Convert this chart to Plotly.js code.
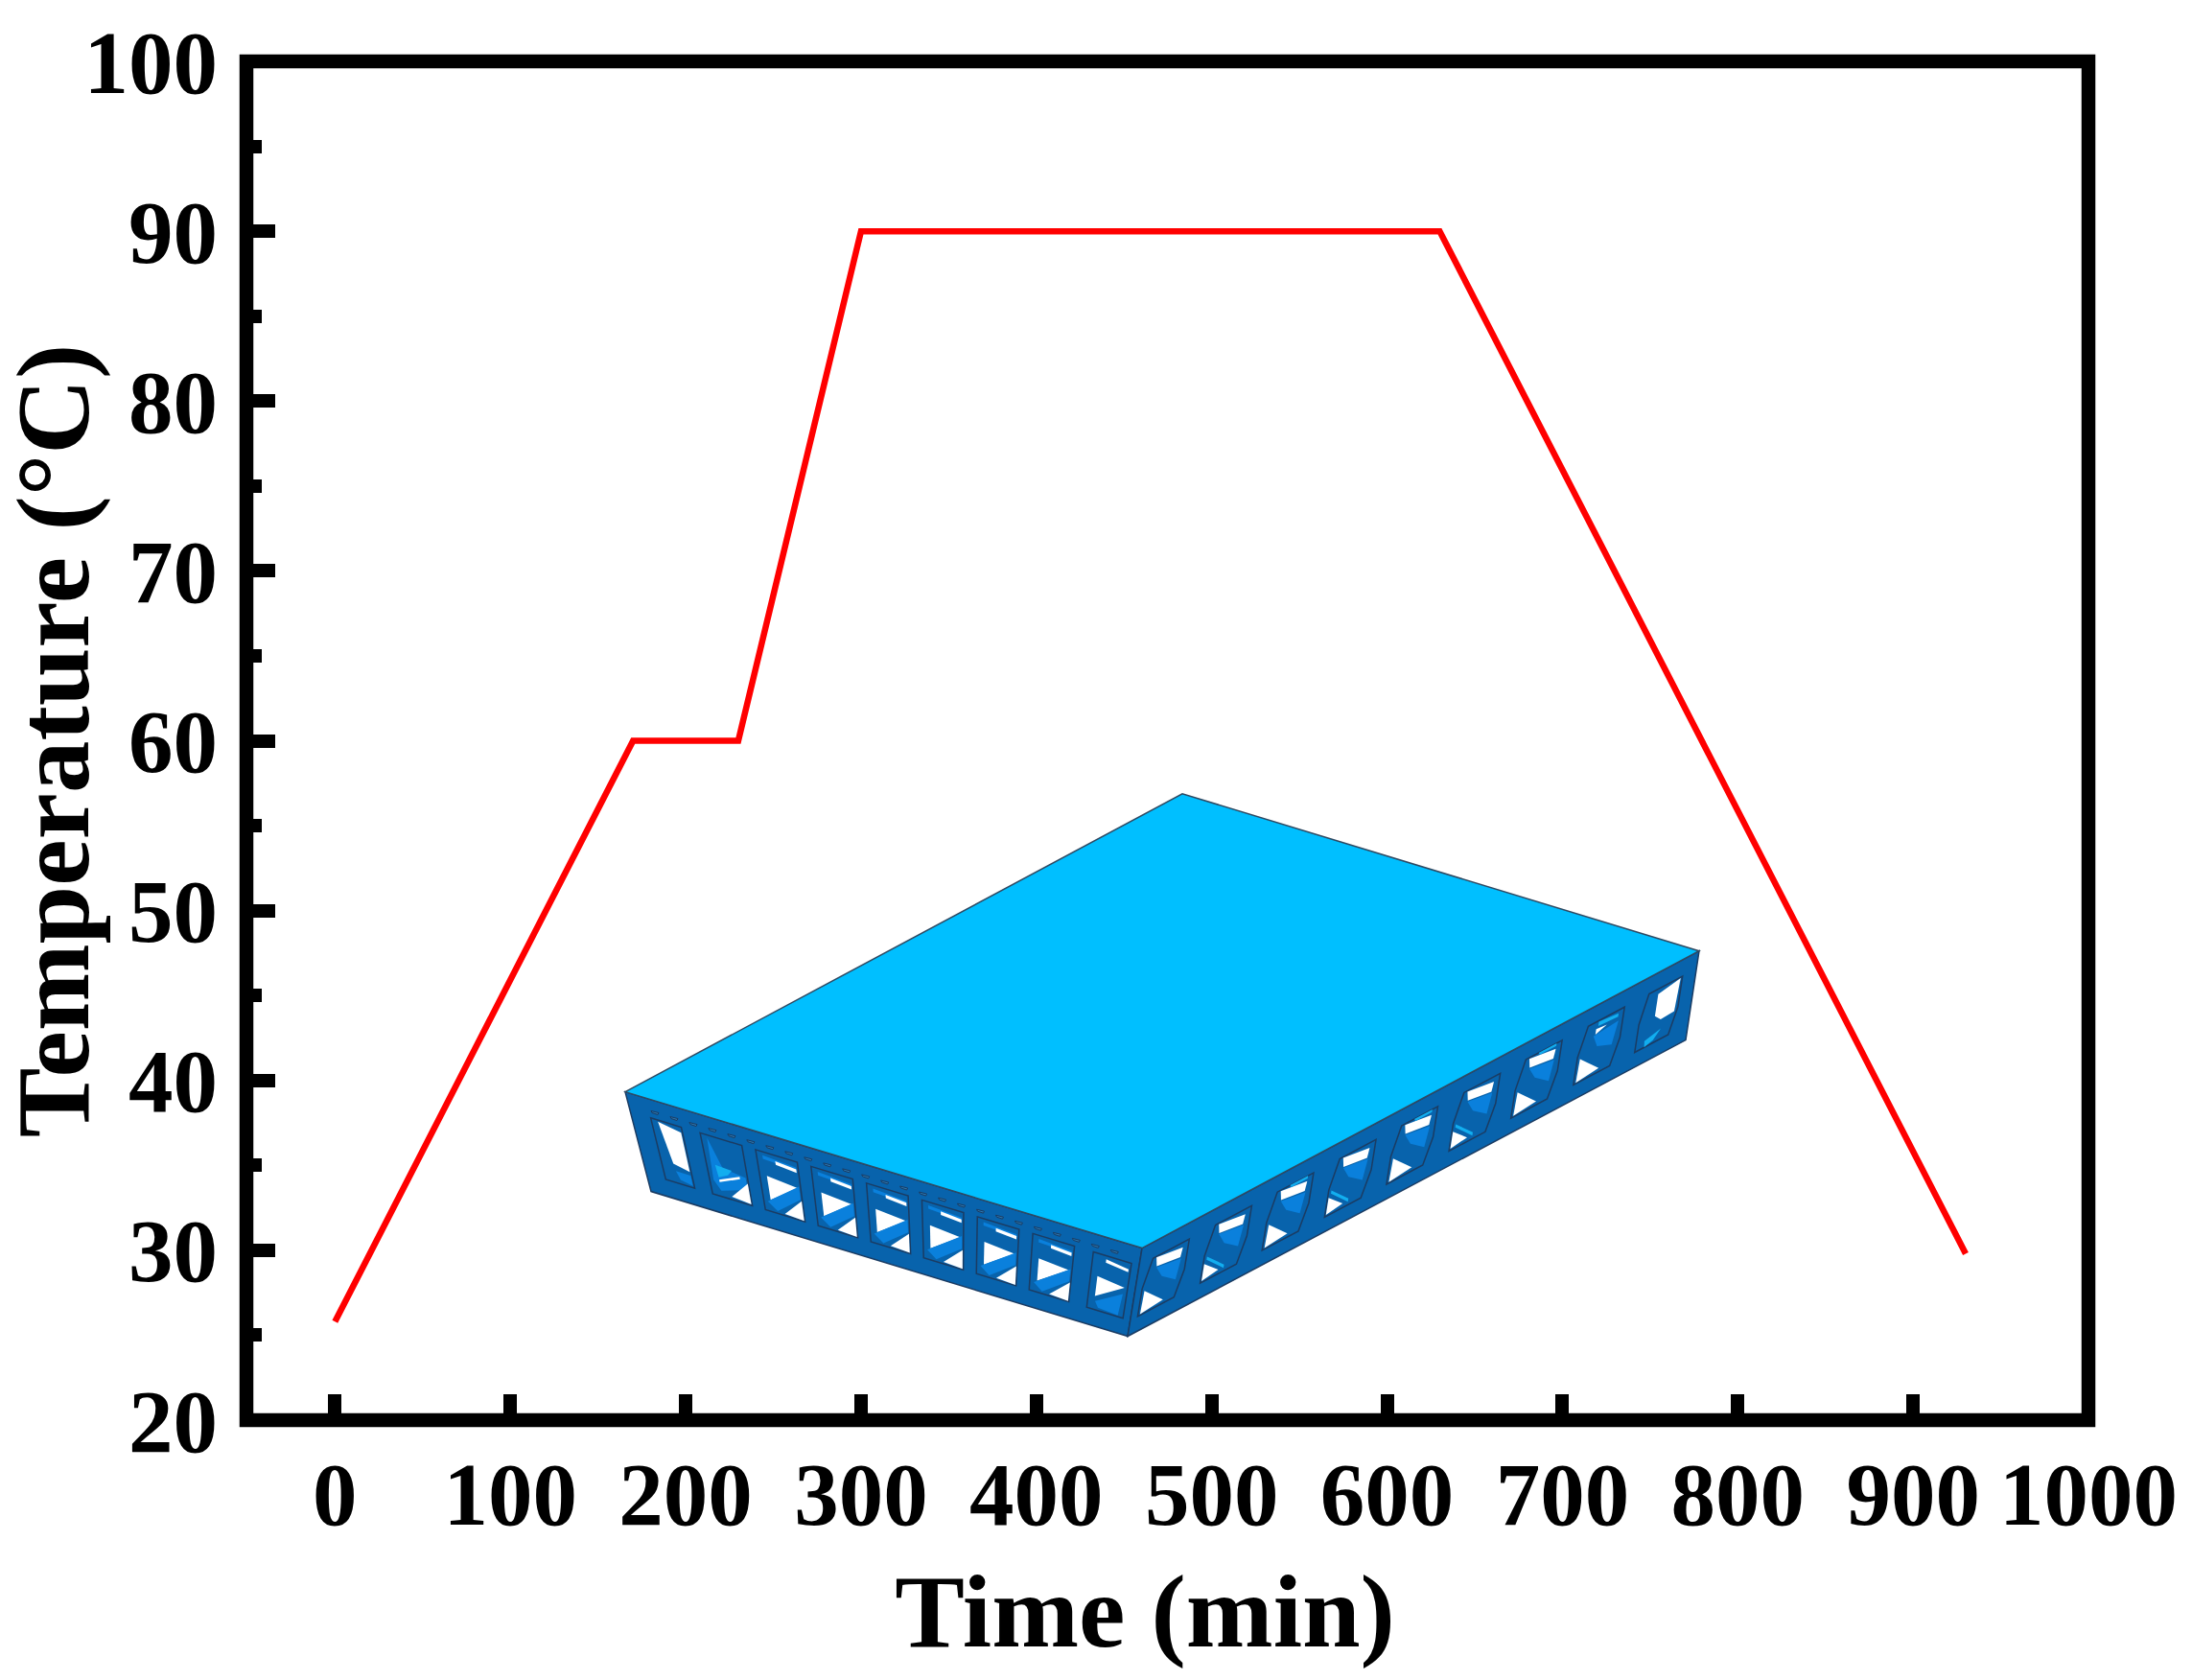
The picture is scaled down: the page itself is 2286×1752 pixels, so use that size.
<!DOCTYPE html>
<html>
<head>
<meta charset="utf-8">
<script src="https://cdn.plot.ly/plotly-3.0.1.min.js"></script>
<style>html,body{margin:0;padding:0;background:#fff}#chart{width:2286px;height:1752px}</style>
</head>
<body>
<div id="chart"></div>
<script>
// Chart data
const timeMin = [0, 170, 230, 300, 630, 930];
const temperatureC = [25.8, 60, 60, 90, 90, 29.8];
const xTicks = [0, 100, 200, 300, 400, 500, 600, 700, 800, 900, 1000];
const yTicks = [20, 30, 40, 50, 60, 70, 80, 90, 100];

// Inset illustration (picture pixels)
const plateTop = [[652,1139],[1233,828],[1772,992],[1191,1302]];
const plateLeft = [[652,1139],[1191,1302],[1176,1394],[679,1243]];
const plateRight = [[1191,1302],[1772,992],[1758,1085],[1176,1394]];
const leftCells = [[.04,.10],[.137,.219],[.246,.328],[.355,.437],[.464,.546],[.573,.655],[.682,.764],[.791,.873],[.91,.985]];
const rightCells = [[.025,.09],[.137,.202],[.248,.313],[.36,.425],[.471,.536],[.583,.648],[.694,.759],[.806,.871],[.915,.975]];
const COL_TOP = '#00BFFF', COL_SIDE = '#0863AC', COL_IN = '#0A80DC', COL_EDGE = '#1B3C63', COL_CYAN = '#12AEEF';

const PL = 257, PT = 64, PW = 1921, PH = 1417.5;
const toPaper = p => [(p[0]-PL)/PW, 1-(p[1]-PT)/PH];
function poly(points, fill, stroke, w) {
  const d = points.map(toPaper).map((p,i)=>(i?'L':'M')+p[0].toFixed(5)+','+p[1].toFixed(5)).join('')+'Z';
  return {type:'path', xref:'paper', yref:'paper', path:d, fillcolor:fill,
          line:{color:stroke||fill, width:w===undefined?0:w}, layer:'above'};
}
function facePoint(f, s, t) {
  const a=[f[0][0]+(f[1][0]-f[0][0])*s, f[0][1]+(f[1][1]-f[0][1])*s];
  const b=[f[3][0]+(f[2][0]-f[3][0])*s, f[3][1]+(f[2][1]-f[3][1])*s];
  return [a[0]+(b[0]-a[0])*t, a[1]+(b[1]-a[1])*t];
}
const T0=.2, T1=.82;
function cellShape(f, c, pts, fill, stroke, w) {
  return poly(pts.map(q=>facePoint(f, c[0]+q[0]*(c[1]-c[0]), T0+q[1]*(T1-T0))), fill, stroke, w);
}
const shapes = [];
shapes.push(poly(plateLeft, COL_SIDE, COL_EDGE, 1.5));
shapes.push(poly(plateRight, COL_SIDE, COL_EDGE, 1.5));
shapes.push(poly(plateTop, COL_TOP, '#2F4A63', 1.5));

// small holes along the top edge of the left face
for (let k=0;k<25;k++){
  const c=facePoint(plateLeft,.052+.0374*k,.12);
  shapes.push(poly([[c[0]-4,c[1]-1],[c[0]+4,c[1]+1],[c[0]+3,c[1]+3],[c[0]-3,c[1]+1]],'#2C78B0',COL_EDGE,1));
}
const outline=[[0,0],[1,0],[1,1],[0,1]];
const rightOutline=[[-.18,.5],[0,0],[1,0],[1,.55],[.82,1],[-.18,1]];
leftCells.forEach((c,i)=>{
  shapes.push(cellShape(plateLeft,c,outline,COL_SIDE,COL_EDGE,1.5));
  if(i===0){
    shapes.push(cellShape(plateLeft,c,[[.22,.03],[.95,.1],[.95,.74],[.42,.68]],'#fff'));
    shapes.push(cellShape(plateLeft,c,[[.45,.8],[.95,.8],[.95,.97],[.55,.93]],COL_IN));
  } else if(i===1){
    shapes.push(cellShape(plateLeft,c,[[.15,.05],[.4,.5],[.95,.55],[.95,.75],[.25,.9],[.1,.75]],COL_IN));
    shapes.push(cellShape(plateLeft,c,[[.22,.48],[.62,.5],[.5,.6],[.25,.68]],COL_CYAN));
    shapes.push(cellShape(plateLeft,c,[[.25,.72],[.8,.56],[.8,.6],[.25,.76]],'#fff'));
    shapes.push(cellShape(plateLeft,c,[[.5,.95],[.98,.64],[.98,.98]],'#fff'));
  } else if(i===8){
    shapes.push(cellShape(plateLeft,c,[[.35,.06],[.95,.12],[.95,.17],[.35,.12]],'#fff'));
    shapes.push(cellShape(plateLeft,c,[[.18,.4],[.92,.46],[.18,.76]],'#fff'));
    shapes.push(cellShape(plateLeft,c,[[.2,.85],[.9,.58],[.85,.98],[.3,.95]],COL_IN));
  } else {
    shapes.push(cellShape(plateLeft,c,[[.15,.06],[.95,.1],[.95,.15],[.15,.12]],COL_IN));
    shapes.push(cellShape(plateLeft,c,[[.45,.1],[.95,.13],[.95,.19],[.45,.16]],'#fff'));
    shapes.push(cellShape(plateLeft,c,[[.18,.4],[.92,.45],[.18,.8]],'#fff'));
    shapes.push(cellShape(plateLeft,c,[[.1,.84],[.96,.42],[.96,.64],[.32,.96]],COL_IN));
    shapes.push(cellShape(plateLeft,c,[[.5,.97],[.98,.66],[.98,.99]],'#fff'));
  }
});
rightCells.forEach((c,i)=>{
  shapes.push(cellShape(plateRight,c,rightOutline,COL_SIDE,COL_EDGE,1.5));
  if(i===8){
    shapes.push(cellShape(plateRight,c,[[.3,.1],[.95,.02],[.9,.6],[.5,.62],[.3,.5]],'#fff'));
    shapes.push(cellShape(plateRight,c,[[.08,.88],[.55,.8],[.35,.95],[.1,1]],COL_CYAN));
  } else if(i===7){
    shapes.push(cellShape(plateRight,c,[[.3,.02],[.85,.06],[.85,.12],[.3,.1]],COL_CYAN));
    shapes.push(cellShape(plateRight,c,[[.25,.14],[.55,.16],[.25,.24]],'#fff'));
    shapes.push(cellShape(plateRight,c,[[.2,.25],[.88,.2],[.78,.6],[.35,.48]],COL_IN));
    shapes.push(cellShape(plateRight,c,[[-.12,.98],[-.1,.56],[.5,.93]],'#fff'));
  } else {
    const even = i%2===1;
    shapes.push(cellShape(plateRight,c,[[.1,.02],[.85,.1],[.82,.27],[.15,.2]],'#fff'));
    shapes.push(cellShape(plateRight,c,[[.15,.22],[.85,.3],[.78,.66],[.35,.45]],COL_IN));
    if(even){
      shapes.push(cellShape(plateRight,c,[[-.1,.54],[.45,.88],[.45,.94],[-.1,.6]],COL_CYAN));
      shapes.push(cellShape(plateRight,c,[[-.15,.97],[-.15,.66],[.3,.92]],'#fff'));
    } else {
      if(i>0) shapes.push(cellShape(plateRight,c,[[.35,.0],[.85,.0],[.85,.05],[.4,.05]],COL_CYAN));
      shapes.push(cellShape(plateRight,c,[[-.12,.98],[-.1,.56],[.5,.93]],'#fff'));
    }
  }
});
// frame
shapes.push({type:'rect', xref:'paper', yref:'paper', x0:0, x1:1, y0:0, y1:1,
  line:{color:'#000', width:14.5}, fillcolor:'rgba(0,0,0,0)', layer:'above'});

const FONT = '"Liberation Serif", "Times New Roman", serif';
const tickFont = {family:FONT, size:93, color:'#000', weight:700};
const titleFont = {family:FONT, size:109, color:'#000', weight:700};

const trace = {x:timeMin, y:temperatureC, mode:'lines', type:'scatter',
  line:{color:'#FF0000', width:6.5, shape:'linear'}, hoverinfo:'skip'};

const layout = {
  width:2286, height:1752, showlegend:false,
  paper_bgcolor:'#fff', plot_bgcolor:'#fff',
  margin:{l:PL, t:PT, r:2286-PL-PW, b:1752-PT-PH, pad:0},
  xaxis:{range:[-50.5,1000], tickmode:'array', tickvals:xTicks, ticktext:xTicks.map(String),
    ticks:'inside', ticklen:27, tickwidth:14, tickcolor:'#000', showgrid:false, zeroline:false,
    showline:false, tickfont:tickFont, ticklabelstandoff:15, automargin:false,
    title:{text:'Time (min)', font:titleFont, standoff:31}},
  yaxis:{range:[20,100], tickmode:'array', tickvals:yTicks, ticktext:yTicks.map(String),
    ticks:'inside', ticklen:30, tickwidth:14, tickcolor:'#000', showgrid:false, zeroline:false,
    showline:false, tickfont:tickFont, ticklabelstandoff:29, automargin:false,
    minor:{dtick:5, ticks:'inside', ticklen:16, tickwidth:14, tickcolor:'#000', showgrid:false},
    title:{text:'Temperature (°C)', font:titleFont, standoff:50}},
  shapes:shapes
};
Plotly.newPlot('chart',[trace],layout,{staticPlot:true,displayModeBar:false}).then(gd=>{
  const t=gd.querySelector('.xtitle');
  if(t) t.setAttribute('x', 1194);
  const yt=gd.querySelector('.ytitle');
  if(yt) yt.setAttribute('transform','translate(-5,0) '+(yt.getAttribute('transform')||''));
});
</script>
</body>
</html>
